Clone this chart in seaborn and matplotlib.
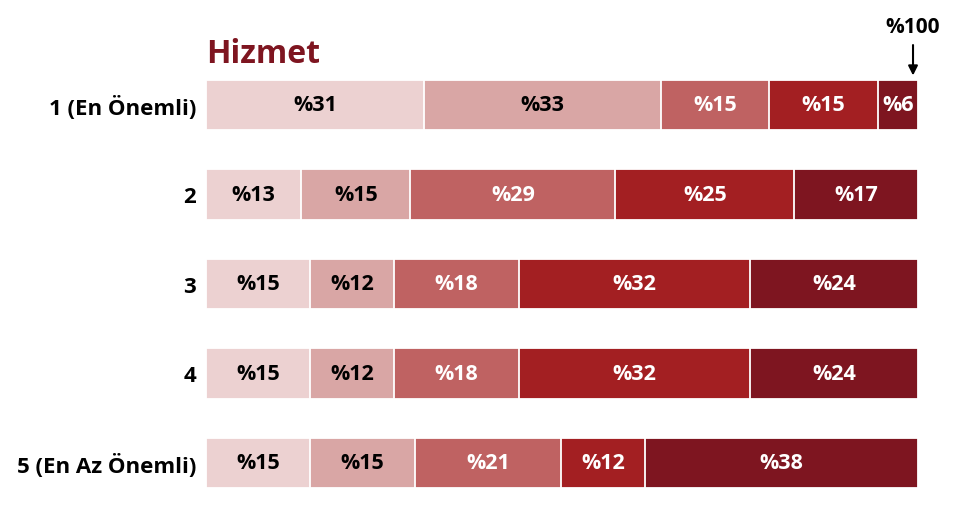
import matplotlib
matplotlib.use("Agg")
import matplotlib.pyplot as plt
import seaborn as sns
import numpy as np
import pandas as pd

categories = ["1 (En Önemli)", "2", "3", "4", "5 (En Az Önemli)"]
seg1 = [30.6, 13.4, 14.6, 14.6, 14.6]
seg2 = [33.3, 15.3, 11.8, 11.8, 14.7]
seg3 = [15.2, 28.8, 17.6, 17.6, 20.6]
seg4 = [15.3, 25.1, 32.4, 32.4, 11.8]
seg5 = [5.6, 17.4, 23.6, 23.6, 38.3]
segments = [seg1, seg2, seg3, seg4, seg5]
colors = ["#ecd1d1", "#d9a6a5", "#bf6262", "#a31f22", "#7e1520"]
text_colors = ["black", "black", "white", "white", "white"]
title = "Hizmet"

sns.set_theme(style="white")
plt.rcParams["font.family"] = ["Open Sans", "DejaVu Sans"]

fig = plt.figure(figsize=(9.75, 5.06), dpi=100)
ax = fig.add_axes([206/975, 0, 712/975, 1 - 61.25/506])

vals = np.array(segments)
cum = np.cumsum(vals, axis=0)
for i in range(len(segments) - 1, -1, -1):
    df = pd.DataFrame({"cat": categories, "val": cum[i]})
    sns.barplot(data=df, x="val", y="cat", orient="h", color=colors[i],
                saturation=1, width=0.56, edgecolor="white", linewidth=1.3,
                ax=ax, errorbar=None)

for i, seg in enumerate(segments):
    for j, v in enumerate(seg):
        xc = cum[i][j] - v / 2
        ax.text(xc, j, f"%{v:.0f}", ha="center", va="center", fontsize=15.5,
                fontweight="bold", color=text_colors[i])

ax.set_xlim(0, 100)
ax.set_ylim(4.47, -0.5)
ax.set_xlabel("")
ax.set_ylabel("")
ax.set_xticks([])
ax.tick_params(axis="y", length=0, pad=7)
for lab in ax.get_yticklabels():
    lab.set_fontsize(16)
    lab.set_fontweight("bold")
    lab.set_color("black")
for s in ax.spines.values():
    s.set_visible(False)

ax.text(0, -0.48, title, fontsize=23, fontweight="bold", color="#7e1520",
        ha="left", va="baseline", transform=ax.transData)

ax.text(99.3, -0.88, "%100", ha="center", va="center", fontsize=15,
        fontweight="bold", color="black", clip_on=False)
ax.annotate("", xy=(99.3, -0.33), xytext=(99.3, -0.67),
            arrowprops=dict(arrowstyle="-|>", color="black", lw=1.5,
                            mutation_scale=14, shrinkA=0, shrinkB=0),
            annotation_clip=False)

fig.savefig("out.png", dpi=100)
